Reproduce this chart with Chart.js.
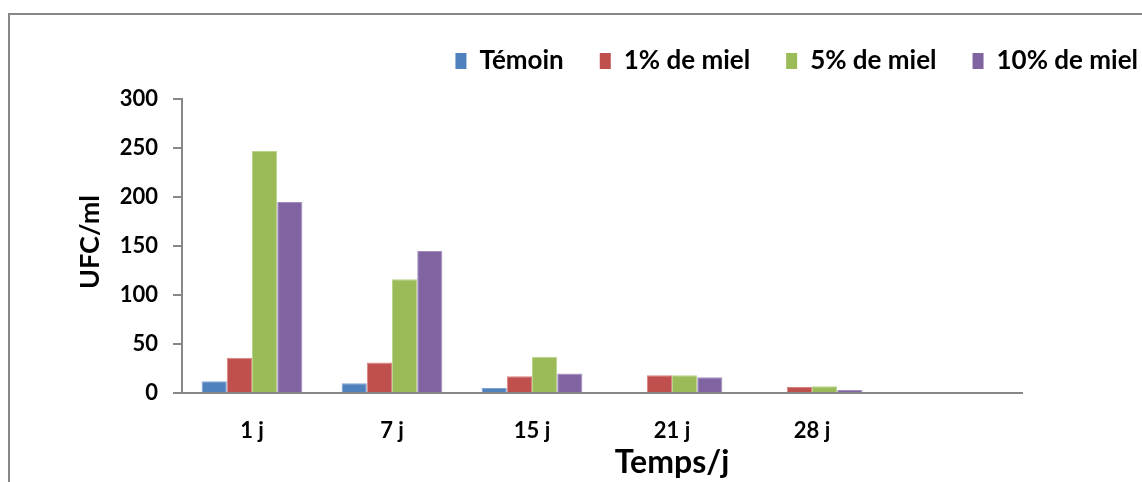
<!DOCTYPE html>
<html>
<head>
<meta charset="utf-8">
<script src="https://cdn.jsdelivr.net/npm/chart.js@4/dist/chart.umd.min.js"></script>
<style>
  html, body { margin: 0; padding: 0; background: #fff; overflow: hidden; }
  #frame { position: absolute; left: 8px; top: 13px; width: 1400px; height: 700px;
           border-left: 2px solid #878787; border-top: 2px solid #878787; }
  #wrap { position: absolute; left: 0; top: 0; width: 1142px; height: 482px; }
</style>
</head>
<body>
<div id="frame"></div>
<div id="wrap"><canvas id="c" width="1142" height="482"></canvas></div>
<script>
// Sampling days (the last slot is left empty on the axis)
const categories = ['1 j', '7 j', '15 j', '21 j', '28 j', ''];

// Colony counts (UFC/ml) per treatment
const temoin  = [12, 10, 5, 0, 0, null];
const miel1   = [36, 31, 17, 18, 6, null];
const miel5   = [247, 116, 37, 18, 7, null];
const miel10  = [195, 145, 20, 16, 3, null];

const seriesNames = ['Témoin', '1% de miel', '5% de miel', '10% de miel'];
const yTicks = [0, 50, 100, 150, 200, 250, 300];

const xTitle = 'Temps/j';
const yTitle = 'UFC/ml';

const colors = ['#4F81BD', '#C0504D', '#9BBB59', '#8064A2'];
const edgeColors = ['#7FA3D1', '#D88482', '#BBD48C', '#A48FC0'];
const FONT = 'Lato';
const axisGray = '#878787';

// Legend strip height fixed so the plot starts right under it
const legendHeightPlugin = {
  id: 'legendHeight',
  beforeLayout(chart) {
    const lg = chart.legend;
    if (lg && !lg._fixedFit) {
      const fit = lg.fit;
      lg.fit = function () { fit.call(this); this.height = 87; };
      lg._fixedFit = true;
    }
  }
};

// Axis titles
const axisTitlesPlugin = {
  id: 'axisTitles',
  afterDraw(chart) {
    const ctx = chart.ctx;
    const xs = chart.scales.x, ys = chart.scales.y;
    ctx.save();
    ctx.fillStyle = '#000';
    ctx.font = 'bold 32px ' + FONT;
    ctx.textAlign = 'center';
    ctx.textBaseline = 'alphabetic';
    ctx.fillText(xTitle, xs.getPixelForValue(3), chart.height - 9);

    ctx.font = 'bold 27px ' + FONT;
    ctx.translate(90, (ys.top + ys.bottom) / 2 - 4);
    ctx.rotate(-Math.PI / 2);
    ctx.textBaseline = 'middle';
    ctx.fillText(yTitle, 0, 0);
    ctx.restore();
  }
};

const dataSeries = [temoin, miel1, miel5, miel10];

new Chart(document.getElementById('c'), {
  type: 'bar',
  data: {
    labels: categories,
    datasets: dataSeries.map((d, i) => ({
      label: seriesNames[i],
      data: d,
      backgroundColor: colors[i],
      borderColor: edgeColors[i],
      borderWidth: { top: 1, left: 1, right: 1, bottom: 0 },
      categoryPercentage: 0.72,
      barPercentage: 1.0,
      yAxisID: 'y'
    }))
  },
  options: {
    responsive: false,
    animation: false,
    layout: { padding: { top: 12, left: 0, right: -32, bottom: 0 } },
    plugins: {
      legend: {
        position: 'top',
        align: 'end',
        labels: {
          boxWidth: 11,
          boxHeight: 16,
          padding: 36,
          color: '#000',
          font: { family: FONT, weight: 'bold', size: 26 },
          generateLabels(chart) {
            return chart.data.datasets.map((ds, i) => ({
              text: ds.label,
              fillStyle: colors[i],
              strokeStyle: colors[i],
              lineWidth: 0,
              hidden: false,
              datasetIndex: i
            }));
          }
        }
      },
      tooltip: { enabled: false }
    },
    scales: {
      x: {
        grid: { display: false, drawTicks: false },
        border: { display: true, color: axisGray, width: 2 },
        ticks: {
          color: '#000',
          padding: 25,
          maxRotation: 0,
          font: { family: FONT, weight: 'bold', size: 22 }
        },
        afterFit(scale) { scale.height = 89; }
      },
      y: {
        position: 'left',
        min: 0,
        max: 300,
        afterBuildTicks(scale) { scale.ticks = yTicks.map(v => ({ value: v })); },
        grid: {
          drawOnChartArea: false,
          drawTicks: true,
          tickLength: 9,
          color: axisGray,
          lineWidth: 2
        },
        border: { display: true, color: axisGray, width: 2 },
        ticks: {
          color: '#000',
          padding: 15,
          font: { family: FONT, weight: 'bold', size: 22 }
        },
        afterFit(scale) { scale.width = 182; }
      },
      yRight: {
        position: 'right',
        display: true,
        grid: { display: false },
        border: { display: false },
        ticks: { display: false },
        afterFit(scale) { scale.width = 152; }
      }
    }
  },
  plugins: [legendHeightPlugin, axisTitlesPlugin]
});
</script>
</body>
</html>
